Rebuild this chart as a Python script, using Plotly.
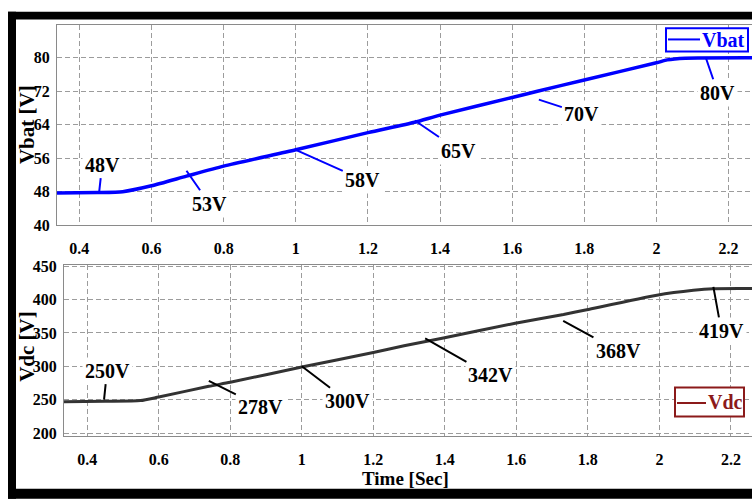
import plotly.graph_objects as go

W, H = 752, 503

# Battery voltage (time in s, voltage in V)
t_bat = [0.338, 0.45, 0.52, 0.60, 0.697, 0.80, 1.00, 1.20, 1.33, 1.40, 1.60, 1.67, 1.80, 2.00, 2.03, 2.08, 2.265]
v_bat = [47.7, 47.8, 48.0, 49.4, 51.7, 54.1, 58.0, 62.1, 64.6, 66.3, 70.5, 72.0, 74.7, 78.8, 79.5, 79.9, 80.0]

# DC-link voltage (time in s, voltage in V)
t_dc = [0.335, 0.45, 0.549, 0.60, 0.74, 0.80, 1.00, 1.20, 1.286, 1.396, 1.597, 1.732, 1.797, 1.993, 2.095, 2.15, 2.259]
v_dc = [246.8, 247.5, 248.6, 254.0, 270.0, 276.0, 299.0, 320.6, 330.7, 342.3, 364.5, 377.6, 384.8, 406.5, 413.8, 416.2, 416.5]

# Called-out operating points
bat_mark_t = [0.455, 0.697, 1.0, 1.33, 1.674, 2.137]
bat_mark_v = [48, 53, 58, 65, 70, 80]
dc_mark_t = [0.447, 0.74, 1.0, 1.345, 1.731, 2.151]
dc_mark_v = [250, 278, 300, 342, 368, 419]

# Axis ticks
time_ticks = [0.4, 0.6, 0.8, 1.0, 1.2, 1.4, 1.6, 1.8, 2.0, 2.2]
time_tick_text = ["0.4", "0.6", "0.8", "1", "1.2", "1.4", "1.6", "1.8", "2", "2.2"]
bat_ticks = [40, 48, 56, 64, 72, 80]
dc_ticks = [200, 250, 300, 350, 400, 450]

# Label offsets of the call-outs (pixels, relative to the pointed point)
bat_offsets = [(3, -27), (23, 33), (67, 30), (44, 30), (43, 14), (12, 35)]
dc_offsets = [(3, -29), (52, 26), (46, 35), (65, 37), (55, 30), (8, 44)]

SERIF = "Liberation Serif, Times New Roman, serif"
BLUE = "#0000ff"
TRACE_DC = "#333333"
MAROON = "#8b1a1a"
GRID = "#9c9c9c"
FRAME = "#8a8a8a"


def px(x):
    return x / W


def py(y):
    return 1 - y / H


fig = go.Figure()
fig.add_trace(go.Scatter(x=t_bat, y=v_bat, mode="lines", name="Vbat",
                         line=dict(color=BLUE, width=3.5, shape="spline", smoothing=0.6),
                         xaxis="x", yaxis="y", showlegend=False))
fig.add_trace(go.Scatter(x=t_dc, y=v_dc, mode="lines", name="Vdc",
                         line=dict(color=TRACE_DC, width=3, shape="spline", smoothing=0.6),
                         xaxis="x2", yaxis="y2", showlegend=False))

tick_font = dict(family=SERIF, size=16, color="black", weight="bold")
xcommon = dict(tickvals=time_ticks, ticktext=time_tick_text, showgrid=True,
               gridcolor=GRID, griddash="5px,3px", gridwidth=1, showline=True,
               linecolor=FRAME, linewidth=1, mirror=True, zeroline=False,
               tickfont=tick_font, ticks="", ticklabelstandoff=9)
ycommon = dict(showgrid=True, gridcolor=GRID, griddash="5px,3px", gridwidth=1,
               showline=True, linecolor=FRAME, linewidth=1, zeroline=False,
               tickfont=tick_font, ticks="", ticklabelstandoff=3)

fig.update_layout(
    width=W, height=H, margin=dict(l=0, r=0, t=0, b=0),
    paper_bgcolor="white", plot_bgcolor="white", showlegend=False,
    xaxis=dict(xcommon, domain=[px(57), 1], range=[0.338, 2.265], anchor="y"),
    yaxis=dict(ycommon, domain=[py(225.3), py(18.3)], range=[40, 87.9],
               tickvals=bat_ticks, anchor="x"),
    xaxis2=dict(xcommon, domain=[px(64), 1], range=[0.335, 2.259], anchor="y2"),
    yaxis2=dict(ycommon, domain=[py(442.7), py(266)], range=[196.1, 452.5],
                tickvals=dc_ticks, anchor="x2"),
)

ann_font = dict(family=SERIF, size=20, color="black", weight="bold")
annotations = []
for t, v, (ax, ay) in zip(bat_mark_t, bat_mark_v, bat_offsets):
    annotations.append(dict(x=t, y=v, xref="x", yref="y", text=f"{v}V",
                            showarrow=True, arrowhead=0, arrowwidth=2,
                            arrowcolor=BLUE, ax=ax, ay=ay, standoff=0,
                            bgcolor="white", borderpad=2, font=ann_font))
for t, v, (ax, ay) in zip(dc_mark_t, dc_mark_v, dc_offsets):
    annotations.append(dict(x=t, y=v, xref="x2", yref="y2", text=f"{v}V",
                            showarrow=True, arrowhead=0, arrowwidth=2,
                            arrowcolor="black", ax=ax, ay=ay, standoff=0,
                            bgcolor="white", borderpad=2, font=ann_font))

title_font = dict(family=SERIF, size=21, color="black", weight="bold")


def paper_text(x, y, text, font, angle=0):
    return dict(x=px(x), y=py(y), xref="paper", yref="paper", text=text,
                textangle=angle, showarrow=False, font=font,
                xanchor="center", yanchor="middle")


annotations += [
    paper_text(27, 122, "Vbat [V]", title_font, -90),
    paper_text(27, 351, "Vdc [V]", title_font, -90),
    paper_text(405, 487, "Time [Sec]", dict(title_font, size=19)),
    paper_text(723, 34, "Vbat", dict(family=SERIF, size=20, color=BLUE, weight="bold")),
    paper_text(725, 408, "Vdc", dict(family=SERIF, size=20, color=MAROON, weight="bold")),
]
fig.update_layout(annotations=annotations)

shapes = [
    # outer black frame
    dict(type="rect", xref="paper", yref="paper", x0=px(8), x1=1.01, y0=py(13), y1=py(5),
         fillcolor="black", line=dict(width=0)),
    dict(type="rect", xref="paper", yref="paper", x0=px(8), x1=px(16), y0=-0.01, y1=py(5),
         fillcolor="black", line=dict(width=0)),
    dict(type="rect", xref="paper", yref="paper", x0=px(8), x1=1.01, y0=-0.01, y1=py(497.5),
         fillcolor="black", line=dict(width=0)),
    # legend boxes
    dict(type="rect", xref="paper", yref="paper", x0=px(666), x1=px(748), y0=py(46), y1=py(22),
         fillcolor="white", line=dict(color=BLUE, width=2)),
    dict(type="line", xref="paper", yref="paper", x0=px(668), x1=px(700), y0=py(33.5), y1=py(33.5),
         line=dict(color=BLUE, width=2)),
    dict(type="rect", xref="paper", yref="paper", x0=px(675), x1=px(744), y0=py(423), y1=py(393),
         fillcolor="white", line=dict(color=MAROON, width=2)),
    dict(type="line", xref="paper", yref="paper", x0=px(677), x1=px(706), y0=py(409), y1=py(409),
         line=dict(color=MAROON, width=2)),
]
fig.update_layout(shapes=shapes)

fig.write_html("out.html")
